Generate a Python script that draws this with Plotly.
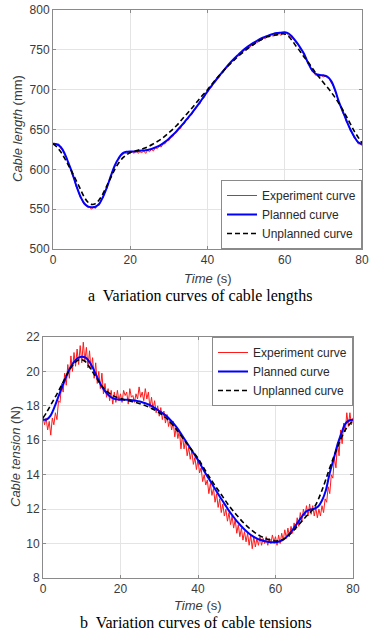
import plotly.graph_objects as go

# ---------------- data: cable length (mm) ----------------
len_planned_t = list(range(0, 81))
len_planned = [632, 631.5, 628, 620, 608, 595, 580, 567, 558, 553.5,
               552.5, 553, 557, 566, 578, 592, 605, 614, 620, 622,
               622.5, 622.5, 623, 623.5, 624, 625, 626.5, 628.5, 631, 634.5,
               638.5, 643, 648, 653.5, 659, 665, 671, 677.5, 684, 691,
               698, 704.5, 711, 717, 723, 729, 734.5, 739.5, 744, 748.5,
               752.5, 756, 759, 762, 764.5, 766.5, 768.5, 770, 771, 771.5,
               772, 770.5, 766, 760, 753, 745, 734, 725, 720, 718.5,
               718, 716.5, 711, 700, 685, 673, 661, 650, 641, 634,
               631.5]

len_unplanned_t = [0, 1, 2, 3, 4, 5, 6, 7, 8, 9, 10, 11, 12, 13, 14, 15, 16, 17, 18, 19, 20,
                   22, 24, 26, 28, 30, 32, 34, 36, 38, 40, 42, 44, 46, 48, 50, 52, 54, 56, 58,
                   59, 60, 61, 62, 63, 64, 65, 66, 67, 68, 69, 70,
                   72, 74, 76, 78, 80]
len_unplanned = [632, 628, 622, 614, 605, 596, 586, 576, 566, 559, 556, 557, 562, 570, 580, 590, 600, 608, 614, 618, 621,
                 624, 627, 632, 638, 646, 655, 666, 677, 689, 700, 712, 723, 733, 742, 750, 757, 763, 767, 769,
                 770, 770, 767, 761, 754, 748, 741, 735, 728, 721, 715, 709,
                 697, 683, 666, 648, 633]

len_exp_step = 0.5
len_exp = [631, 633, 630, 632, 626, 625, 618, 615, 606, 602,
           593, 588, 578, 574, 565, 562, 556, 555, 552, 552,
           550, 553, 551, 555, 555, 562, 564, 573, 576, 586,
           590, 600, 603, 610, 612, 618, 618, 621, 620, 622,
           620, 622, 620, 623, 620, 622, 621, 623, 620, 624,
           622, 625, 623, 627, 626, 629, 628, 632, 632, 636,
           636, 640, 641, 645, 646, 651, 651, 656, 657, 662,
           663, 668, 669, 674, 676, 681, 682, 687, 689, 694,
           696, 701, 703, 708, 709, 714, 715, 720, 721, 726,
           727, 732, 732, 737, 737, 742, 742, 746, 746, 750,
           750, 754, 753, 757, 756, 760, 759, 763, 762, 765,
           764, 767, 766, 769, 767, 770, 768, 771, 768, 771,
           769, 771, 768, 767, 764, 763, 758, 757, 751, 749,
           743, 740, 732, 730, 723, 722, 718, 719, 717, 718,
           716, 717, 715, 714, 709, 706, 698, 693, 683, 679,
           671, 667, 659, 656, 648, 645, 639, 637, 632, 632,
           630]
len_exp_t = [round(i * len_exp_step, 2) for i in range(len(len_exp))]

# ---------------- data: cable tension (N) ----------------
ten_planned_t = list(range(0, 81))
ten_planned = [17.20, 17.22, 17.45, 17.95, 18.55, 19.15, 19.70, 20.20, 20.55, 20.78,
               20.85, 20.80, 20.55, 20.15, 19.65, 19.20, 18.85, 18.60, 18.45, 18.38,
               18.36, 18.36, 18.35, 18.33, 18.30, 18.25, 18.18, 18.10, 18.00, 17.85,
               17.70, 17.55, 17.38, 17.15, 16.90, 16.60, 16.25, 15.90, 15.55, 15.20,
               14.85, 14.45, 14.05, 13.70, 13.32, 12.95, 12.60, 12.25, 11.90, 11.60,
               11.30, 11.05, 10.82, 10.62, 10.45, 10.32, 10.22, 10.15, 10.10, 10.08,
               10.07, 10.12, 10.22, 10.42, 10.68, 10.98, 11.30, 11.62, 11.88, 11.98,
               12.02, 12.15, 12.50, 13.10, 14.10, 14.90, 15.75, 16.40, 16.95, 17.15,
               17.20]

ten_unplanned_t = [0, 1, 2, 3, 4, 5, 6, 7, 8, 9, 10, 11, 12, 13, 14, 15, 16, 17, 18, 19, 20,
                   22, 24, 26, 28, 30, 32, 34, 36, 38, 40, 42, 44, 46, 48, 50, 52, 54, 56, 58,
                   60, 62, 64, 66, 68, 70, 72, 74, 76, 78, 80]
ten_unplanned = [17.3, 17.65, 18.05, 18.45, 18.85, 19.3, 19.75, 20.15, 20.45, 20.65, 20.68,
                 20.55, 20.25, 19.9, 19.55, 19.2, 18.95, 18.75, 18.6, 18.5, 18.42,
                 18.3, 18.2, 18.05, 17.85, 17.6, 17.25, 16.75, 16.15, 15.55, 14.95,
                 14.2, 13.5, 12.85, 12.2, 11.65, 11.15, 10.75, 10.45, 10.25, 10.15,
                 10.25, 10.6, 11.1, 11.6, 12.1, 13.1, 14.4, 15.6, 16.6, 17.15]

ten_exp_step = 0.4
ten_exp = [17.4, 16.9, 17.3, 16.6, 17.1, 16.3, 17.3, 16.9, 17.6, 17.2,
           18.3, 18.2, 19.3, 18.8, 19.9, 19.2, 20.4, 19.6, 20.9, 20.0,
           21.1, 20.3, 21.3, 20.4, 21.5, 20.5, 21.7, 20.6, 21.4, 20.2,
           21.2, 20.1, 20.8, 19.6, 20.5, 19.3, 20.0, 19.0, 19.9, 18.7,
           19.3, 18.5, 19.0, 18.3, 18.9, 18.1, 18.8, 18.2, 18.9, 18.3,
           18.7, 18.2, 18.9, 18.6, 18.8, 18.1, 19.0, 18.5, 18.6, 18.2,
           18.7, 18.4, 19.1, 18.5, 18.8, 18.3, 19.0, 18.4, 18.8, 17.9,
           18.5, 17.8, 18.3, 17.6, 18.0, 17.4, 17.9, 17.2, 17.7, 17.0,
           17.5, 16.8, 17.2, 16.6, 17.1, 16.2, 16.8, 16.1, 16.6, 15.5,
           16.3, 15.5, 16.0, 15.1, 15.6, 14.9, 15.4, 14.6, 15.0, 14.3,
           14.9, 14.1, 14.4, 13.6, 14.0, 13.4, 13.7, 12.9, 13.5, 12.8,
           13.2, 12.4, 12.9, 12.1, 12.6, 11.8, 12.3, 11.6, 12.0, 11.3,
           11.8, 11.1, 11.6, 10.9, 11.4, 10.6, 11.1, 10.4, 10.9, 10.2,
           10.7, 10.1, 10.6, 9.9, 10.5, 9.7, 10.4, 9.8, 10.3, 9.9,
           10.4, 9.9, 10.3, 10.0, 10.4, 9.9, 10.3, 10.0, 10.5, 10.1,
           10.4, 9.9, 10.5, 10.0, 10.6, 10.2, 10.8, 10.3, 10.9, 10.4,
           11.0, 10.6, 11.2, 10.8, 11.5, 11.0, 11.8, 11.3, 12.0, 11.6,
           12.2, 11.6, 12.3, 11.7, 12.2, 11.6, 12.1, 11.5, 12.0, 11.6,
           12.2, 11.8, 12.6, 12.4, 13.3, 12.9, 14.0, 13.8, 15.0, 14.4,
           15.9, 15.1, 16.6, 15.8, 17.0, 16.5, 17.6, 16.8, 17.6, 16.9,
           17.3]
ten_exp_t = [round(i * ten_exp_step, 2) for i in range(len(ten_exp))]

x_ticks = [0, 20, 40, 60, 80]
len_ticks = [500, 550, 600, 650, 700, 750, 800]
ten_ticks = [8, 10, 12, 14, 16, 18, 20, 22]

names = ["Experiment curve", "Planned curve", "Unplanned curve"]

# ---------------- figure ----------------
W, H = 379, 635
RED = "#ff1a1a"
BLUE = "#0000ff"
BLACK = "#000000"
DASH = "5px,3px"

fig = go.Figure()

fig.add_trace(go.Scatter(x=len_exp_t, y=len_exp, mode="lines", name=names[0],
                         line=dict(color=RED, width=1), xaxis="x", yaxis="y", legend="legend"))
fig.add_trace(go.Scatter(x=len_planned_t, y=len_planned, mode="lines", name=names[1],
                         line=dict(color=BLUE, width=2, shape="spline"), xaxis="x", yaxis="y", legend="legend"))
fig.add_trace(go.Scatter(x=len_unplanned_t, y=len_unplanned, mode="lines", name=names[2],
                         line=dict(color=BLACK, width=1.6, dash=DASH, shape="spline"), xaxis="x", yaxis="y", legend="legend"))

fig.add_trace(go.Scatter(x=ten_exp_t, y=ten_exp, mode="lines", name=names[0],
                         line=dict(color=RED, width=1), xaxis="x2", yaxis="y2", legend="legend2"))
fig.add_trace(go.Scatter(x=ten_planned_t, y=ten_planned, mode="lines", name=names[1],
                         line=dict(color=BLUE, width=2, shape="spline"), xaxis="x2", yaxis="y2", legend="legend2"))
fig.add_trace(go.Scatter(x=ten_unplanned_t, y=ten_unplanned, mode="lines", name=names[2],
                         line=dict(color=BLACK, width=1.6, dash=DASH, shape="spline"), xaxis="x2", yaxis="y2", legend="legend2"))

FONT = "Liberation Sans, Arial, sans-serif"
SERIF = "Liberation Serif, Times New Roman, serif"
TXT = "#3a3a3a"
axis_common = dict(showline=True, mirror="ticks", linecolor="#8a8a8a", linewidth=1,
                   ticks="inside", ticklen=3, tickcolor="#8a8a8a", tickwidth=1,
                   showgrid=True, gridcolor="#e4e4e4", gridwidth=1, zeroline=False,
                   automargin=False,
                   tickfont=dict(family=FONT, size=12, color=TXT))

legend_common = dict(bgcolor="white", bordercolor="#8a8a8a", borderwidth=1,
                     font=dict(family=FONT, size=12, color="#2a2a2a"),
                     tracegroupgap=0, itemwidth=30)

def px(x, y):
    return x / W, 1 - y / H

ann = []
def label(text, x, y, size, family, angle=0, color=TXT):
    ax, ay = px(x, y)
    ann.append(dict(text=text, xref="paper", yref="paper", x=ax, y=ay,
                    xanchor="center", yanchor="middle", showarrow=False, textangle=angle,
                    font=dict(family=family, size=size, color=color)))

label("<i>Time</i> (s)", 207.5, 278, 13, FONT)
label("<i>Cable length</i> (mm)", 17, 129, 13, FONT, angle=-90)
label("a  Variation curves of cable lengths", 200, 296, 16, SERIF, color="black")
label("<i>Time</i> (s)", 198, 605, 13, FONT)
label("<i>Cable tension</i> (N)", 15, 457, 13, FONT, angle=-90)
label("b  Variation curves of cable tensions", 196, 622, 16, SERIF, color="black")

fig.update_layout(
    width=W, height=H, margin=dict(l=0, r=0, t=0, b=0, autoexpand=False),
    paper_bgcolor="white", plot_bgcolor="white",
    xaxis=dict(domain=[53 / W, 362 / W], range=[0, 80], anchor="y", tickvals=x_ticks, **axis_common),
    yaxis=dict(domain=[1 - 249 / H, 1 - 10 / H], range=[500, 800], anchor="x", tickvals=len_ticks, **axis_common),
    xaxis2=dict(domain=[43 / W, 353 / W], range=[0, 80], anchor="y2", tickvals=x_ticks, **axis_common),
    yaxis2=dict(domain=[1 - 578 / H, 1 - 337 / H], range=[8, 22], anchor="x2", tickvals=ten_ticks, **axis_common),
    legend=dict(x=362 / W, y=1 - 249 / H, xanchor="right", yanchor="bottom", **legend_common),
    legend2=dict(x=353 / W, y=1 - 337 / H, xanchor="right", yanchor="top", **legend_common),
    annotations=ann,
)

fig.write_html("out.html", config={"displayModeBar": False},
               post_script="document.body.style.margin='0';document.body.style.padding='0';"
                           "document.documentElement.style.overflow='hidden';")
